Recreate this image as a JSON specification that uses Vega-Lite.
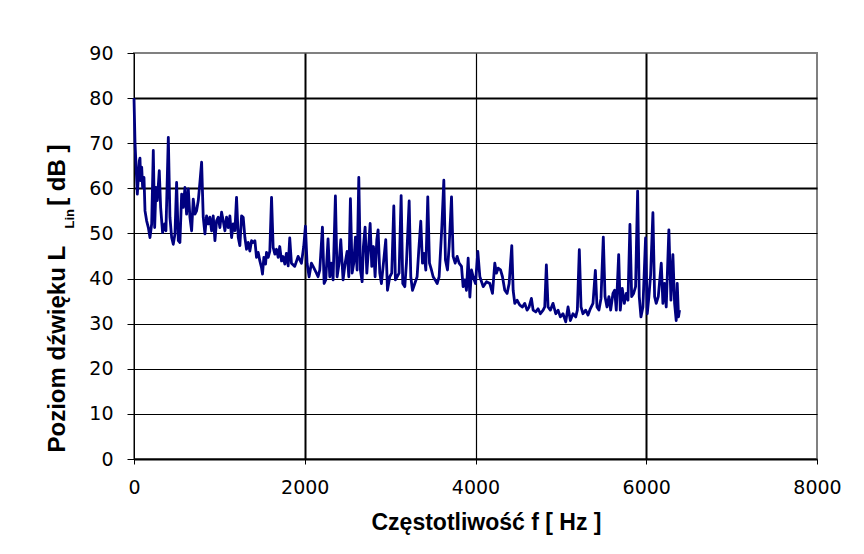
{
  "$schema": "https://vega.github.io/schema/vega-lite/v6.json",
  "width": 683,
  "height": 406,
  "autosize": {"type": "none"},
  "padding": {"left": 134, "top": 53, "right": 47, "bottom": 95},
  "background": "white",
  "config": {
    "view": {"stroke": "#808080", "strokeWidth": 2}
  },
  "data": {
    "values": [
      {"f": 0, "L": 80}, {"f": 12, "L": 70}, {"f": 23, "L": 65.4}, {"f": 39, "L": 58.7}, {"f": 62, "L": 66.1},
      {"f": 70, "L": 66.7}, {"f": 78, "L": 61.7}, {"f": 90, "L": 64.7}, {"f": 101, "L": 60.2}, {"f": 117, "L": 62.4},
      {"f": 129, "L": 55}, {"f": 148, "L": 52.8}, {"f": 168, "L": 51.3}, {"f": 187, "L": 49.1}, {"f": 207, "L": 52.1},
      {"f": 226, "L": 68.4}, {"f": 242, "L": 51.3}, {"f": 257, "L": 60.2}, {"f": 273, "L": 57.3}, {"f": 296, "L": 63.9},
      {"f": 312, "L": 55.8}, {"f": 335, "L": 50.2}, {"f": 359, "L": 52.1}, {"f": 374, "L": 50.6}, {"f": 402, "L": 71.3},
      {"f": 421, "L": 53.6}, {"f": 441, "L": 49.1}, {"f": 460, "L": 47.6}, {"f": 480, "L": 49.9}, {"f": 499, "L": 61.3},
      {"f": 519, "L": 48.4}, {"f": 538, "L": 48}, {"f": 558, "L": 58.7}, {"f": 577, "L": 55.8}, {"f": 597, "L": 60.2},
      {"f": 616, "L": 54.3}, {"f": 636, "L": 59.9}, {"f": 655, "L": 53.6}, {"f": 675, "L": 50.6}, {"f": 694, "L": 57.6},
      {"f": 714, "L": 54.3}, {"f": 733, "L": 55}, {"f": 753, "L": 57.3}, {"f": 772, "L": 61.3}, {"f": 792, "L": 65.8},
      {"f": 811, "L": 53.6}, {"f": 831, "L": 49.9}, {"f": 850, "L": 53.9}, {"f": 870, "L": 52.1}, {"f": 889, "L": 53.6},
      {"f": 909, "L": 50.6}, {"f": 928, "L": 53.9}, {"f": 948, "L": 48.4}, {"f": 967, "L": 52.8}, {"f": 987, "L": 53.6},
      {"f": 1006, "L": 51.3}, {"f": 1026, "L": 54.7}, {"f": 1045, "L": 52.8}, {"f": 1065, "L": 50.6}, {"f": 1084, "L": 53.6},
      {"f": 1104, "L": 51.3}, {"f": 1123, "L": 53.9}, {"f": 1143, "L": 49.1}, {"f": 1162, "L": 52.1}, {"f": 1182, "L": 50.6},
      {"f": 1201, "L": 58}, {"f": 1221, "L": 49.1}, {"f": 1240, "L": 47.3}, {"f": 1260, "L": 53.9}, {"f": 1279, "L": 53.6},
      {"f": 1299, "L": 49.1}, {"f": 1318, "L": 46.5}, {"f": 1338, "L": 48}, {"f": 1357, "L": 46.1}, {"f": 1377, "L": 48.4},
      {"f": 1396, "L": 48}, {"f": 1416, "L": 48.4}, {"f": 1435, "L": 44.7}, {"f": 1455, "L": 45.8}, {"f": 1474, "L": 43.9},
      {"f": 1494, "L": 42.4}, {"f": 1505, "L": 41}, {"f": 1521, "L": 44.7}, {"f": 1541, "L": 43.2}, {"f": 1552, "L": 45.8},
      {"f": 1572, "L": 44.7}, {"f": 1591, "L": 46.1}, {"f": 1611, "L": 58}, {"f": 1630, "L": 46.9}, {"f": 1650, "L": 45.4},
      {"f": 1669, "L": 46.5}, {"f": 1689, "L": 44.7}, {"f": 1707, "L": 47.1}, {"f": 1728, "L": 43.9}, {"f": 1746, "L": 44.9},
      {"f": 1767, "L": 43.2}, {"f": 1785, "L": 45.6}, {"f": 1806, "L": 42.8}, {"f": 1824, "L": 49}, {"f": 1844, "L": 43.4},
      {"f": 1883, "L": 42.7}, {"f": 1922, "L": 44.9}, {"f": 1961, "L": 43.4}, {"f": 1988, "L": 47.1}, {"f": 2008, "L": 51.6},
      {"f": 2027, "L": 43.4}, {"f": 2051, "L": 40.4}, {"f": 2078, "L": 43.4}, {"f": 2098, "L": 42.7}, {"f": 2137, "L": 41.2},
      {"f": 2156, "L": 40.4}, {"f": 2176, "L": 41.9}, {"f": 2207, "L": 51.4}, {"f": 2227, "L": 38.9}, {"f": 2246, "L": 39.7},
      {"f": 2273, "L": 48.8}, {"f": 2293, "L": 40.4}, {"f": 2312, "L": 43.4}, {"f": 2332, "L": 39.7}, {"f": 2359, "L": 58.3},
      {"f": 2379, "L": 40.4}, {"f": 2402, "L": 43.4}, {"f": 2422, "L": 48.6}, {"f": 2449, "L": 39.7}, {"f": 2473, "L": 43.4},
      {"f": 2496, "L": 46}, {"f": 2516, "L": 40.4}, {"f": 2535, "L": 57.7}, {"f": 2555, "L": 41.2}, {"f": 2574, "L": 43.4},
      {"f": 2594, "L": 49.2}, {"f": 2613, "L": 41.9}, {"f": 2633, "L": 62.4}, {"f": 2652, "L": 41.9}, {"f": 2672, "L": 39.3},
      {"f": 2687, "L": 47.1}, {"f": 2707, "L": 51.4}, {"f": 2727, "L": 41.2}, {"f": 2746, "L": 46.4}, {"f": 2766, "L": 52.2},
      {"f": 2785, "L": 42.7}, {"f": 2805, "L": 47.1}, {"f": 2824, "L": 40.4}, {"f": 2844, "L": 48.6}, {"f": 2859, "L": 50.8},
      {"f": 2879, "L": 41.2}, {"f": 2898, "L": 38.9}, {"f": 2918, "L": 42.7}, {"f": 2949, "L": 48.6}, {"f": 2969, "L": 37.4},
      {"f": 2996, "L": 40.4}, {"f": 3019, "L": 41.2}, {"f": 3043, "L": 56.1}, {"f": 3062, "L": 39.7}, {"f": 3082, "L": 40.4},
      {"f": 3105, "L": 41.2}, {"f": 3129, "L": 58.4}, {"f": 3148, "L": 38.9}, {"f": 3172, "L": 38.2}, {"f": 3191, "L": 43.4},
      {"f": 3223, "L": 57.2}, {"f": 3242, "L": 40.4}, {"f": 3262, "L": 37.4}, {"f": 3289, "L": 38.9}, {"f": 3316, "L": 40.4},
      {"f": 3336, "L": 46.4}, {"f": 3359, "L": 52.7}, {"f": 3379, "L": 43.4}, {"f": 3398, "L": 45.6}, {"f": 3418, "L": 41.9},
      {"f": 3441, "L": 58.1}, {"f": 3461, "L": 43.4}, {"f": 3484, "L": 41.9}, {"f": 3504, "L": 40.4}, {"f": 3527, "L": 39.7},
      {"f": 3551, "L": 38.9}, {"f": 3574, "L": 40.4}, {"f": 3605, "L": 51.2}, {"f": 3629, "L": 61.8}, {"f": 3648, "L": 44.1},
      {"f": 3672, "L": 41.9}, {"f": 3691, "L": 47.1}, {"f": 3719, "L": 58.1}, {"f": 3738, "L": 44.9}, {"f": 3762, "L": 43.4},
      {"f": 3785, "L": 44.9}, {"f": 3808, "L": 43.4}, {"f": 3836, "L": 42.7}, {"f": 3855, "L": 38.2}, {"f": 3875, "L": 39.7},
      {"f": 3894, "L": 37.4}, {"f": 3914, "L": 44.5}, {"f": 3934, "L": 35.9}, {"f": 3953, "L": 41.9}, {"f": 3973, "L": 40.4},
      {"f": 4000, "L": 38.9}, {"f": 4027, "L": 46}, {"f": 4051, "L": 40.4}, {"f": 4090, "L": 38.2}, {"f": 4129, "L": 39.3},
      {"f": 4168, "L": 38.9}, {"f": 4199, "L": 36.7}, {"f": 4226, "L": 43.4}, {"f": 4246, "L": 41.2}, {"f": 4265, "L": 42.3},
      {"f": 4293, "L": 41.9}, {"f": 4316, "L": 40.4}, {"f": 4343, "L": 37.4}, {"f": 4370, "L": 36.7}, {"f": 4394, "L": 38.9},
      {"f": 4425, "L": 47.3}, {"f": 4441, "L": 37.4}, {"f": 4460, "L": 34.5}, {"f": 4487, "L": 35.2}, {"f": 4519, "L": 34.1},
      {"f": 4550, "L": 33.7}, {"f": 4577, "L": 34.5}, {"f": 4604, "L": 33}, {"f": 4628, "L": 33.7}, {"f": 4655, "L": 35.6},
      {"f": 4675, "L": 33}, {"f": 4706, "L": 32.6}, {"f": 4733, "L": 33.3}, {"f": 4760, "L": 32.2}, {"f": 4792, "L": 33},
      {"f": 4811, "L": 33.7}, {"f": 4830, "L": 43}, {"f": 4850, "L": 33.7}, {"f": 4877, "L": 33}, {"f": 4908, "L": 34.5},
      {"f": 4940, "L": 32.2}, {"f": 4967, "L": 33}, {"f": 4994, "L": 31.5}, {"f": 5025, "L": 32.2}, {"f": 5057, "L": 30.4},
      {"f": 5084, "L": 33.7}, {"f": 5111, "L": 30.7}, {"f": 5142, "L": 32.2}, {"f": 5174, "L": 31.5}, {"f": 5193, "L": 33},
      {"f": 5216, "L": 46.4}, {"f": 5236, "L": 33.7}, {"f": 5259, "L": 32.2}, {"f": 5290, "L": 33}, {"f": 5318, "L": 31.9},
      {"f": 5345, "L": 33.3}, {"f": 5376, "L": 34.5}, {"f": 5404, "L": 41.8}, {"f": 5423, "L": 33.7}, {"f": 5446, "L": 33},
      {"f": 5470, "L": 35.6}, {"f": 5497, "L": 49.2}, {"f": 5517, "L": 36}, {"f": 5540, "L": 33.7}, {"f": 5563, "L": 36},
      {"f": 5583, "L": 33}, {"f": 5610, "L": 36.7}, {"f": 5630, "L": 37.4}, {"f": 5649, "L": 33}, {"f": 5677, "L": 45.3},
      {"f": 5696, "L": 33}, {"f": 5719, "L": 37.8}, {"f": 5743, "L": 34.5}, {"f": 5766, "L": 36.7}, {"f": 5786, "L": 35.2},
      {"f": 5809, "L": 52}, {"f": 5829, "L": 36}, {"f": 5852, "L": 36.7}, {"f": 5875, "L": 38.2}, {"f": 5899, "L": 59.4},
      {"f": 5918, "L": 36}, {"f": 5938, "L": 31.5}, {"f": 5961, "L": 33.7}, {"f": 5992, "L": 49}, {"f": 6012, "L": 32.2},
      {"f": 6031, "L": 36}, {"f": 6051, "L": 40.8}, {"f": 6078, "L": 54.6}, {"f": 6098, "L": 36}, {"f": 6117, "L": 34.5},
      {"f": 6141, "L": 36}, {"f": 6176, "L": 43.4}, {"f": 6195, "L": 34.5}, {"f": 6215, "L": 38.9}, {"f": 6234, "L": 33.7},
      {"f": 6265, "L": 50.8}, {"f": 6289, "L": 35.2}, {"f": 6312, "L": 45.3}, {"f": 6332, "L": 34.5}, {"f": 6351, "L": 30.7},
      {"f": 6363, "L": 38.9}, {"f": 6378, "L": 31.5}, {"f": 6390, "L": 33}
    ]
  },
  "encoding": {
    "x": {
      "field": "f",
      "type": "quantitative",
      "scale": {"domain": [0, 8000], "nice": false, "zero": true},
      "axis": {
        "values": [0, 2000, 4000, 6000, 8000],
        "format": "d",
        "title": "Częstotliwość f [ Hz ]",
        "titleFont": "Liberation Sans",
        "titleFontSize": 23,
        "titleFontWeight": "bold",
        "titleColor": "black",
        "titleX": 352,
        "titleY": 70,
        "titleAlign": "center",
        "titleBaseline": "alphabetic",
        "labelFont": "DejaVu Sans",
        "labelFontSize": 19,
        "labelColor": "black",
        "labelPadding": 14,
        "labelFlush": false,
        "labelOverlap": false,
        "tickSize": 5,
        "tickColor": "black",
        "tickWidth": 1,
        "domainColor": "black",
        "domainWidth": 2,
        "grid": true,
        "gridColor": "black",
        "gridWidth": {"condition": {"test": "datum.value === 2000 || datum.value === 6000", "value": 2}, "value": 1.2},
        "gridOpacity": {"condition": {"test": "datum.value === 0 || datum.value === 8000", "value": 0}, "value": 1},
        "zindex": 0
      }
    }
  },
  "layer": [
    {
      "mark": {"type": "line", "color": "#000080", "strokeWidth": 2.8, "strokeJoin": "round"},
      "encoding": {
        "y": {
          "field": "L",
          "type": "quantitative",
          "scale": {"domain": [0, 90], "nice": false},
          "axis": {
            "values": [0, 10, 20, 30, 40, 50, 60, 70, 80, 90],
            "title": "Poziom dźwięku L\u00a0\u00a0\u00a0\u00a0\u00a0\u00a0[ dB ]",
            "titleFont": "Liberation Sans",
            "titleFontSize": 24,
            "titleFontWeight": "bold",
            "titleColor": "black",
            "titleAngle": 270,
            "titleAlign": "left",
            "titleBaseline": "alphabetic",
            "titleX": -70,
            "titleY": 399,
            "labelFont": "DejaVu Sans",
            "labelFontSize": 19,
            "labelColor": "black",
            "labelPadding": 14,
            "labelFlush": false,
            "labelOverlap": false,
            "tickSize": 7,
            "tickColor": "black",
            "tickWidth": 1,
            "domainColor": "black",
            "domainWidth": 1,
            "grid": true,
            "gridColor": "black",
            "gridWidth": {"condition": {"test": "datum.value === 80 || datum.value === 60", "value": 2}, "value": 1.2},
            "gridOpacity": {"condition": {"test": "datum.value === 0 || datum.value === 90", "value": 0}, "value": 1},
            "zindex": 0
          }
        }
      }
    },
    {
      "mark": {"type": "line", "opacity": 0},
      "encoding": {
        "y": {
          "field": "L",
          "type": "quantitative",
          "axis": {
            "orient": "right",
            "title": "Lin",
            "titleFont": "Liberation Sans",
            "titleFontSize": 13,
            "titleFontWeight": "bold",
            "titleColor": "black",
            "titleAngle": 270,
            "titleAlign": "left",
            "titleBaseline": "alphabetic",
            "titleX": -744,
            "titleY": 175,
            "labels": false,
            "ticks": false,
            "domain": false,
            "grid": false
          }
        }
      }
    }
  ],
  "resolve": {"axis": {"y": "independent"}}
}
